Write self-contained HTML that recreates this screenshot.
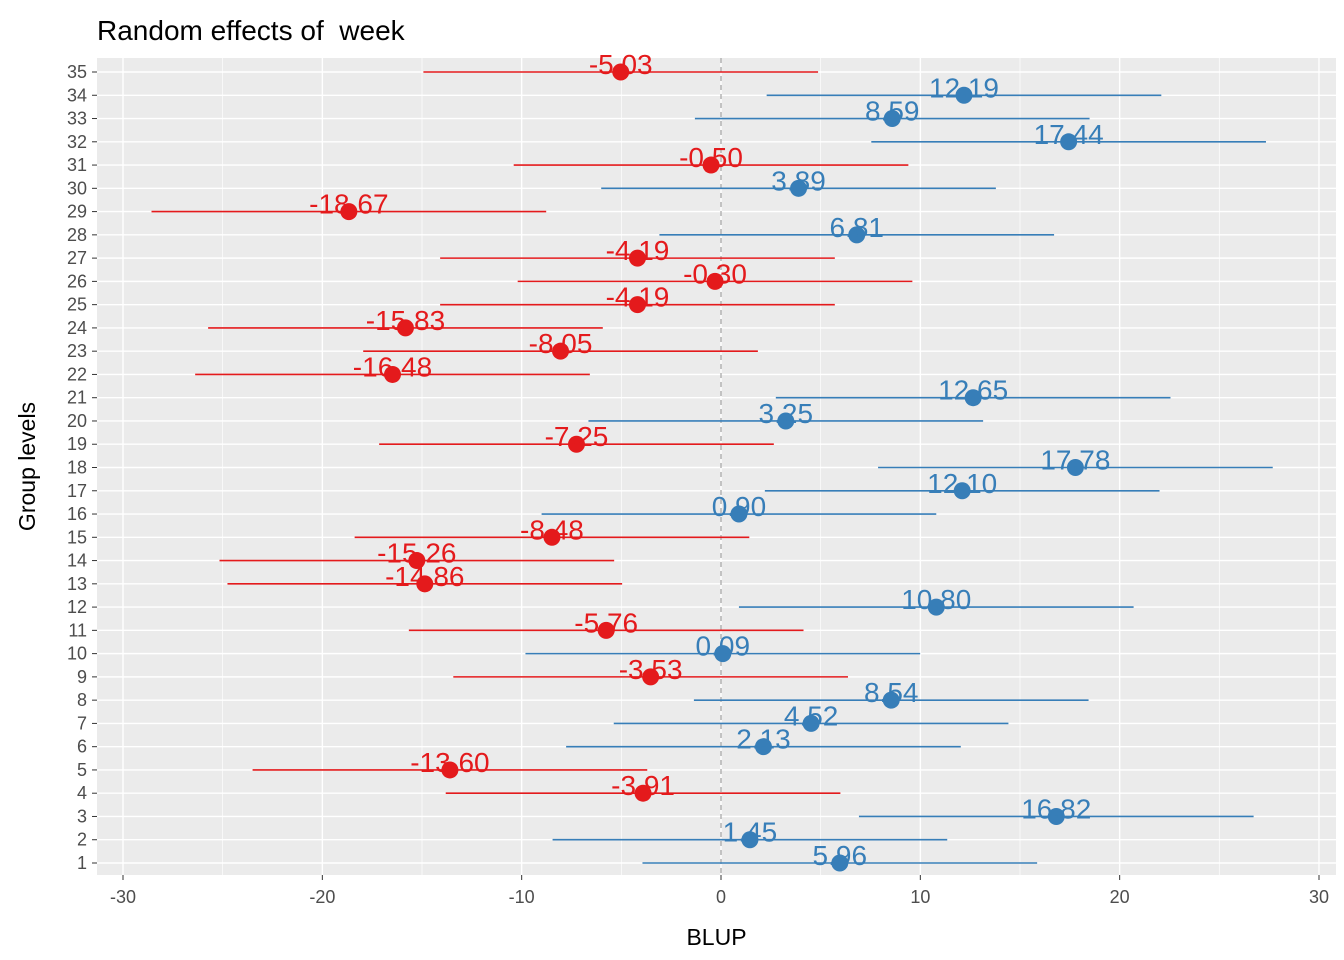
<!DOCTYPE html>
<html><head><meta charset="utf-8"><style>
body{margin:0;background:#fff;}
svg{display:block;font-family:"Liberation Sans",Arial,sans-serif;}
</style></head><body>
<svg id="chart" width="1344" height="960"></svg>
<script>
const levels=[1,2,3,4,5,6,7,8,9,10,11,12,13,14,15,16,17,18,19,20,21,22,23,24,25,26,27,28,29,30,31,32,33,34,35];
const blup=[5.96,1.45,16.82,-3.91,-13.60,2.13,4.52,8.54,-3.53,0.09,-5.76,10.80,-14.86,-15.26,-8.48,0.90,12.10,17.78,-7.25,3.25,12.65,-16.48,-8.05,-15.83,-4.19,-0.30,-4.19,6.81,-18.67,3.89,-0.50,17.44,8.59,12.19,-5.03];
const lower=[-3.94,-8.45,6.92,-13.81,-23.50,-7.77,-5.38,-1.36,-13.43,-9.81,-15.66,0.90,-24.76,-25.16,-18.38,-9.00,2.20,7.88,-17.15,-6.65,2.75,-26.38,-17.95,-25.73,-14.09,-10.20,-14.09,-3.09,-28.57,-6.01,-10.40,7.54,-1.31,2.29,-14.93];
const upper=[15.86,11.35,26.72,5.99,-3.70,12.03,14.42,18.44,6.37,9.99,4.14,20.70,-4.96,-5.36,1.42,10.80,22.00,27.68,2.65,13.15,22.55,-6.58,1.85,-5.93,5.71,9.60,5.71,16.71,-8.77,13.79,9.40,27.34,18.49,22.09,4.87];
const xTicks=[-30,-20,-10,0,10,20,30];
const xMinor=[-25,-15,-5,5,15,25];

const NS="http://www.w3.org/2000/svg";
const svg=document.getElementById('chart');
const L=97,R=1336,T=58,B=875;
const x=v=>721+v*19.933;
const y=l=>863-(l-1)*(863-72)/34;
function mk(tag,attrs,parent){const e=document.createElementNS(NS,tag);for(const k in attrs)e.setAttribute(k,attrs[k]);(parent||svg).appendChild(e);return e;}

const panel=mk('rect',{x:L,y:T,width:R-L,height:B-T,fill:'#EBEBEB'});


xMinor.forEach(v=>{const g=mk('line',{x1:x(v),x2:x(v),y1:T,y2:B,stroke:'#fff','stroke-width':0.7});

});
xTicks.forEach(v=>{const g=mk('line',{x1:x(v),x2:x(v),y1:T,y2:B,stroke:'#fff','stroke-width':1.4});

});
levels.forEach(l=>{const g=mk('line',{x1:L,x2:R,y1:y(l),y2:y(l),stroke:'#fff','stroke-width':1.4});

});
const zl=mk('line',{x1:x(0),x2:x(0),y1:T,y2:B,stroke:'#A9A9A9','stroke-width':1.3,'stroke-dasharray':'5,4'});



levels.forEach((l,i)=>{
 const c=blup[i]<0?'#E41A1C':'#377EB8';
 const ci=mk('line',{x1:x(lower[i]),x2:x(upper[i]),y1:y(l),y2:y(l),stroke:c,'stroke-width':1.6});
 
 
 const p=mk('circle',{cx:x(blup[i]),cy:y(l),r:8.5,fill:c});
 
 
 const t=mk('text',{x:x(blup[i]),y:y(l)+2,'text-anchor':'middle',fill:c,'font-size':28});
 t.textContent=blup[i].toFixed(2);
 
 
 const yt=mk('text',{x:L-10,y:y(l)+6,'text-anchor':'end',fill:'#4D4D4D','font-size':18});
 yt.textContent=l;
 
 
 const tk=mk('line',{x1:L-5,x2:L,y1:y(l),y2:y(l),stroke:'#333','stroke-width':1});
 
 
});
xTicks.forEach(v=>{
 const tk=mk('line',{x1:x(v),x2:x(v),y1:B,y2:B+5,stroke:'#333','stroke-width':1});
 
 
 const t=mk('text',{x:x(v),y:B+28,'text-anchor':'middle',fill:'#4D4D4D','font-size':18});
 t.textContent=v;
 
 
});
const xt=mk('text',{x:(L+R)/2,y:945,'text-anchor':'middle',fill:'#000','font-size':23});
xt.textContent='BLUP';


const yt=mk('text',{x:0,y:0,'text-anchor':'middle',fill:'#000','font-size':23,transform:'translate(35,'+((T+B)/2)+') rotate(-90)'});
yt.textContent='Group levels';


const tt=mk('text',{x:97,y:40,fill:'#000','font-size':28,style:'white-space:pre'});
tt.textContent='Random effects of  week';


</script>
</body></html>
